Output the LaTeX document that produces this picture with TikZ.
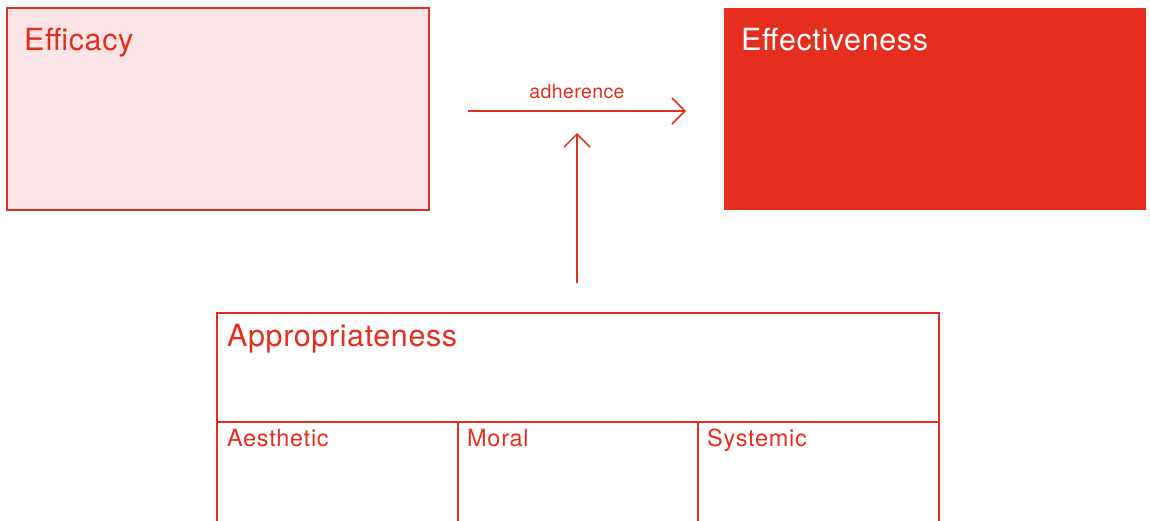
\documentclass[tikz,border=0pt]{standalone}
\usepackage{fontspec}
\setmainfont{TeX Gyre Heros}
\newfontfamily\widefontA[LetterSpace=2.0]{TeX Gyre Heros}
\newfontfamily\widefontB[LetterSpace=3.0]{TeX Gyre Heros}
\usetikzlibrary{arrows.meta}
\definecolor{cred}{HTML}{E62E1F}
\definecolor{cpink}{HTML}{FBE4E6}
\begin{document}
\begin{tikzpicture}[x=1pt,y=-1pt,
  box/.style={draw=cred,line width=1.5pt},
  lbl/.style={anchor=base west,inner sep=0pt,text=cred},
  big/.style={font=\widefontA\fontsize{30.5}{34}\selectfont},
  mid/.style={font=\widefontB\fontsize{23.5}{26}\selectfont},
  small/.style={font=\widefontA\fontsize{19.5}{22}\selectfont},
  arr/.style={draw=cred,line width=1.5pt,-{Straight Barb[length=13pt,width=26pt,line width=1.5pt]}}]
\useasboundingbox (0,0) rectangle (1150,520);
\clip (0,0) rectangle (1150,520);
% boxes
\draw[box,fill=cpink] (7,8) rectangle (429,210);
\coordinate (efficacy) at (218,109);
\fill[cred] (724,8) rectangle (1146,210);
\coordinate (effective) at (935,109);
\draw[box] (217,313) rectangle (939,422);
\draw[box] (217,422) rectangle (458,540);
\draw[box] (458,422) rectangle (698,540);
\draw[box] (698,422) rectangle (939,540);
% labels
\node[lbl,big] (t1) at (24,50) {Efficacy};
\node[lbl,big,text=white] (t2) at (741,50) {Effectiveness};
\node[lbl,big] (t3) at (227,346) {Appropriateness};
\node[lbl,mid] (t4) at (227,446) {Aesthetic};
\node[lbl,mid] (t5) at (467,446) {Moral};
\node[lbl,mid] (t6) at (707,446) {Systemic};
% connectors
\coordinate (hs) at (468,111);
\coordinate (he) at (686,111);
\coordinate (vs) at (577,283);
\coordinate (ve) at (577,133);
\draw[arr] (hs) -- (he);
\draw[arr] (vs) -- (ve);
\node[anchor=base,inner sep=0pt,text=cred,small] (adh) at (577,98) {adherence};
\end{tikzpicture}
\end{document}
